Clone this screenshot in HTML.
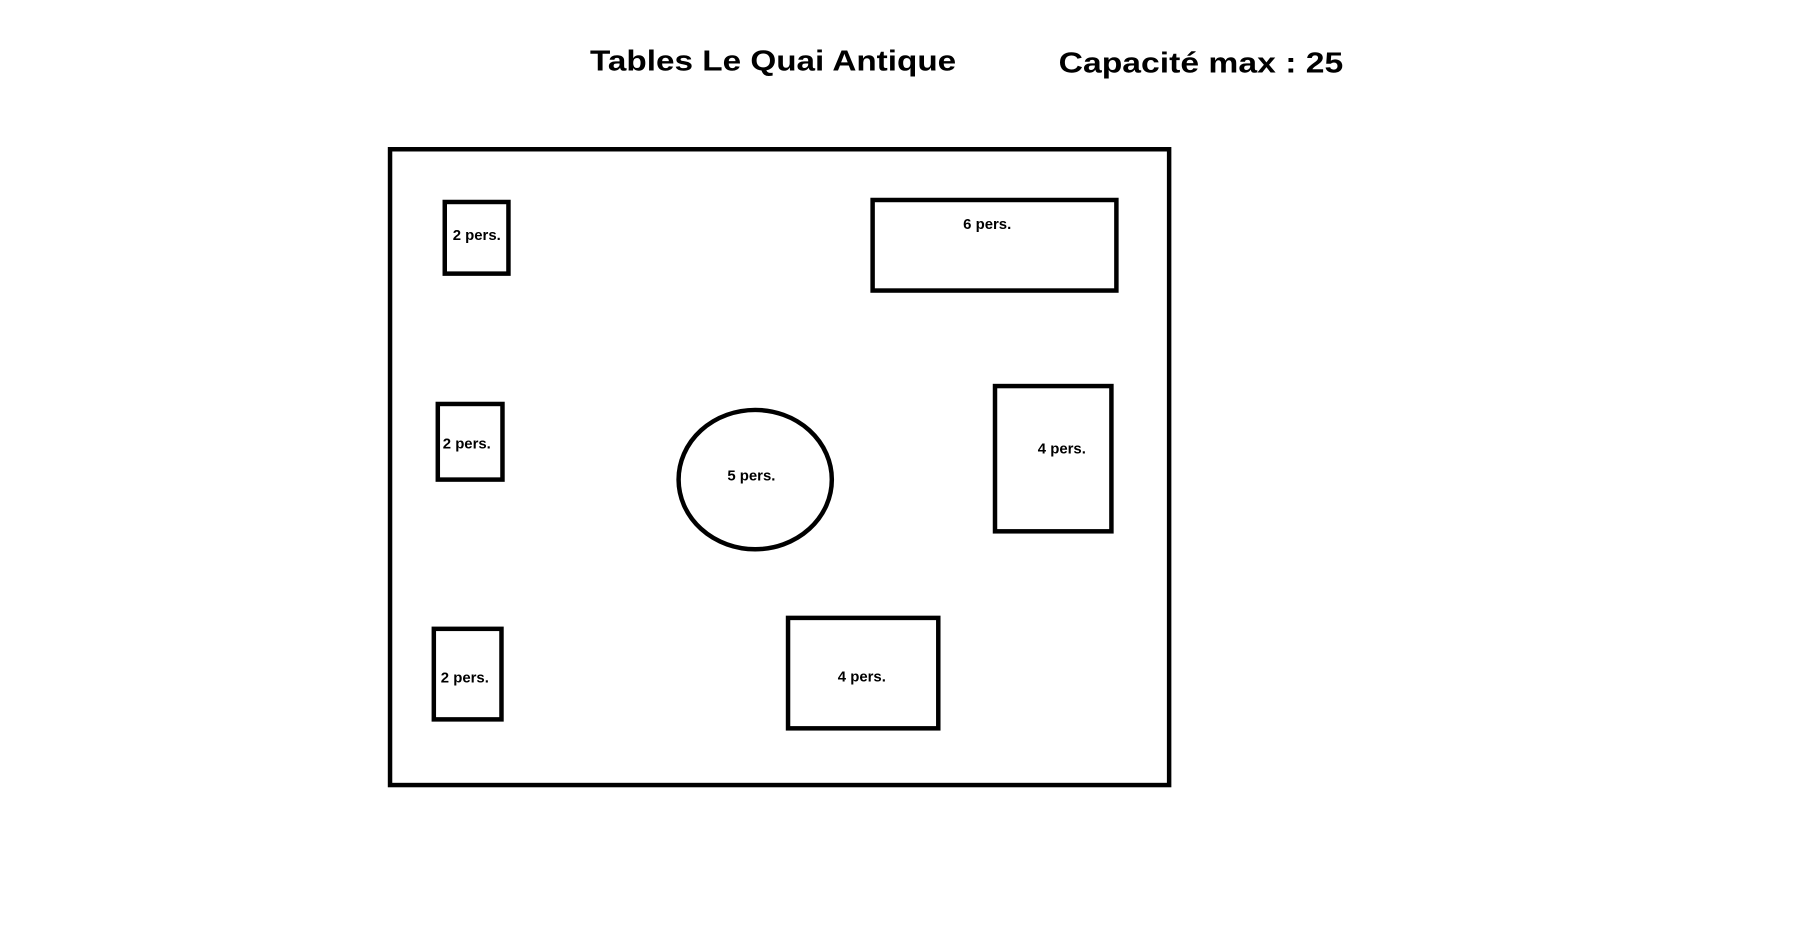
<!DOCTYPE html>
<html><head><style>html,body{margin:0;padding:0;background:#fff;}svg{display:block}</style></head>
<body>
<svg width="1808" height="949" xmlns="http://www.w3.org/2000/svg" font-family="Liberation Sans, Arial, sans-serif" font-weight="bold">
<g transform="scale(0.995)">
<text x="593" y="63" font-size="29" dominant-baseline="middle" textLength="368" lengthAdjust="spacingAndGlyphs">Tables Le Quai Antique</text>
<text x="1064" y="65" font-size="29" dominant-baseline="middle" textLength="286" lengthAdjust="spacingAndGlyphs">Capacité max : 25</text>
<g fill="none" stroke="#000" stroke-width="4.5">
<rect x="392" y="150" width="783" height="639"/>
<rect x="447" y="203" width="64" height="72"/>
<rect x="440" y="406" width="65" height="76"/>
<rect x="436" y="632" width="68" height="91"/>
<rect x="877" y="201" width="245" height="91"/>
<rect x="1000" y="388" width="117" height="146"/>
<rect x="792" y="621" width="151" height="111"/>
<ellipse cx="759" cy="482" rx="77" ry="70"/>
</g>
<g font-size="15" dominant-baseline="middle">
<text x="455" y="237">2 pers.</text>
<text x="445" y="447">2 pers.</text>
<text x="443" y="682">2 pers.</text>
<text x="968" y="226">6 pers.</text>
<text x="1043" y="452">4 pers.</text>
<text x="731" y="479">5 pers.</text>
<text x="842" y="681">4 pers.</text>
</g>
</g>
</svg>
</body></html>
